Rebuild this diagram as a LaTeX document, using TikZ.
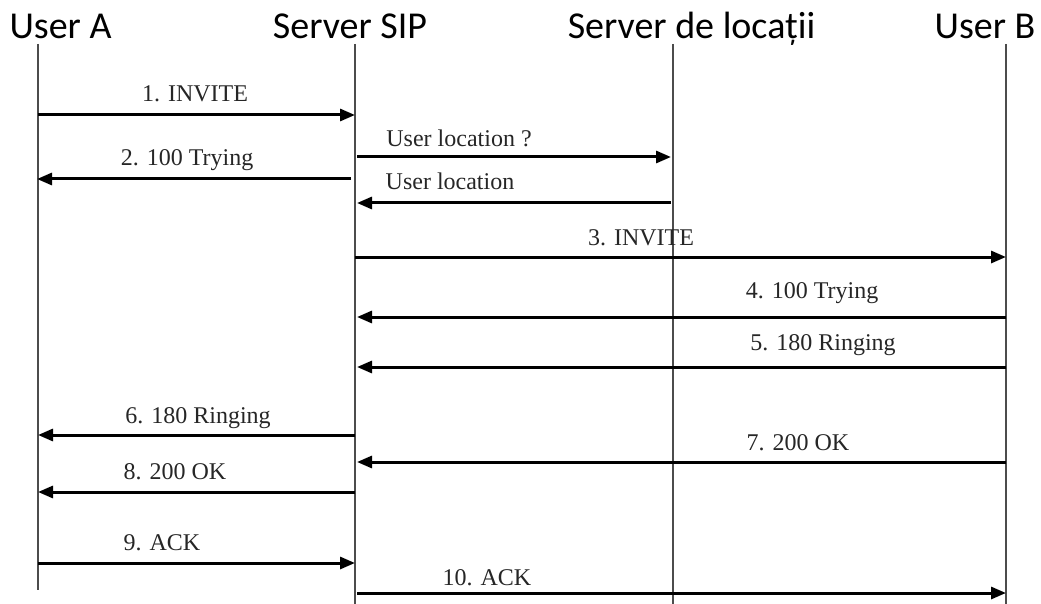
\documentclass[tikz,border=0pt]{standalone}
\usepackage{fontspec}
\setmainfont{Liberation Serif}
\newfontfamily\hdrfont{Carlito}
\usetikzlibrary{arrows.meta}
\begin{document}
\begin{tikzpicture}[x=1pt,y=-1pt,
  life/.style={line width=2pt,draw=black!70},
  msg/.style={line width=3pt,draw=black,-{Triangle[length=15pt,width=12pt]}},
  hdr/.style={anchor=base,inner sep=0pt,text=black,font=\hdrfont\fontsize{38}{40}\selectfont},
  lbl/.style={anchor=base,inner sep=0pt,text=black!85,font=\fontsize{24}{26}\selectfont}]
\useasboundingbox (0,0) rectangle (1041,604);
% headers
\node[hdr] (hA) at (60.5,39) {User A};
\node[hdr] (hS) at (350,39) {Server SIP};
\node[hdr] (hL) at (691.5,39) {Server de locații};
\node[hdr] (hB) at (985,39) {User B};
% lifelines
\coordinate (A0) at (38,44);   \coordinate (A1) at (38,590);
\coordinate (S0) at (355,44);  \coordinate (S1) at (355,604);
\coordinate (L0) at (673,44);  \coordinate (L1) at (673,604);
\coordinate (B0) at (1006,44); \coordinate (B1) at (1006,604);
\draw[life] (A0) -- (A1);
\draw[life] (S0) -- (S1);
\draw[life] (L0) -- (L1);
\draw[life] (B0) -- (B1);
% message end points
\coordinate (m1a) at (38,115);  \coordinate (m1b) at (355,115);
\coordinate (mqa) at (357,157); \coordinate (mqb) at (671,157);
\coordinate (m2a) at (351,179); \coordinate (m2b) at (37,179);
\coordinate (mra) at (671,203); \coordinate (mrb) at (357,203);
\coordinate (m3a) at (355,257); \coordinate (m3b) at (1006,257);
\coordinate (m4a) at (1006,317);\coordinate (m4b) at (357,317);
\coordinate (m5a) at (1006,367);\coordinate (m5b) at (357,367);
\coordinate (m6a) at (355,435); \coordinate (m6b) at (38,435);
\coordinate (m7a) at (1006,462);\coordinate (m7b) at (357,462);
\coordinate (m8a) at (355,492); \coordinate (m8b) at (38,492);
\coordinate (m9a) at (38,563);  \coordinate (m9b) at (355,563);
\coordinate (m10a) at (357,593);\coordinate (m10b) at (1006,593);
% messages
\draw[msg] (m1a) -- (m1b);
\draw[msg] (mqa) -- (mqb);
\draw[msg] (m2a) -- (m2b);
\draw[msg] (mra) -- (mrb);
\draw[msg] (m3a) -- (m3b);
\draw[msg] (m4a) -- (m4b);
\draw[msg] (m5a) -- (m5b);
\draw[msg] (m6a) -- (m6b);
\draw[msg] (m7a) -- (m7b);
\draw[msg] (m8a) -- (m8b);
\draw[msg] (m9a) -- (m9b);
\draw[msg] (m10a) -- (m10b);
% labels
\node[lbl] (t1) at (195,102) {1. INVITE};
\node[lbl] (tq) at (459,147) {User location ?};
\node[lbl] (t2) at (187,166) {2. 100 Trying};
\node[lbl] (tr) at (450,190) {User location};
\node[lbl] (t3) at (641,245) {3. INVITE};
\node[lbl] (t4) at (812,298) {4. 100 Trying};
\node[lbl] (t5) at (823,350) {5. 180 Ringing};
\node[lbl] (t6) at (198,423) {6. 180 Ringing};
\node[lbl] (t7) at (798,450) {7. 200 OK};
\node[lbl] (t8) at (175,479) {8. 200 OK};
\node[lbl] (t9) at (162,550) {9. ACK};
\node[lbl] (t10) at (487,585) {10. ACK};
\end{tikzpicture}
\end{document}
